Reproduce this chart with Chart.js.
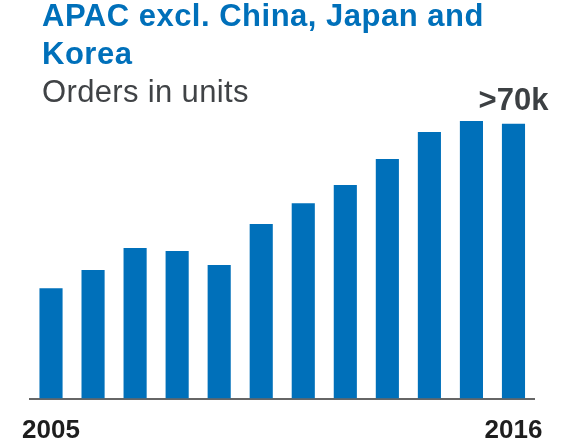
<!DOCTYPE html>
<html>
<head>
<meta charset="utf-8">
<script src="https://cdn.jsdelivr.net/npm/chart.js@4"></script>
<style>
  html, body { margin: 0; padding: 0; background: #fff; }
  #wrap { position: relative; width: 577px; height: 445px; overflow: hidden; }
  #chart { position: absolute; left: 0; top: 0; }
  .title {
    position: absolute; left: 42px; top: -3px; margin: 0;
    font-family: "Liberation Sans", Arial, sans-serif;
    font-weight: bold; font-size: 31px; line-height: 38px;
    letter-spacing: 0.5px;
    color: #0070ba; white-space: nowrap;
  }
  .subtitle {
    position: absolute; left: 42px; top: 73px; margin: 0;
    font-family: "Liberation Sans", Arial, sans-serif;
    font-weight: normal; font-size: 31px; line-height: 38px;
    letter-spacing: 0.35px;
    color: #404346; white-space: nowrap;
  }
</style>
</head>
<body>
<div id="wrap">
  <canvas id="chart" width="577" height="445"></canvas>
  <div class="title">APAC excl. China, Japan and<br>Korea</div>
  <div class="subtitle">Orders in units</div>
</div>
<script>
// Yearly order intake, units
const years = ['2005', '2006', '2007', '2008', '2009', '2010',
               '2011', '2012', '2013', '2014', '2015', '2016'];
const orders = [28500, 33200, 38900, 38100, 34500, 45100,
                50500, 55200, 61900, 68900, 71700, 71000];
// Only the first and last year are written under the axis
const shownYears = ['2005', '2016'];
// The last year carries a rounded "more than" callout
const calloutIndex = orders.length - 1;

const BLUE = '#0070ba';

// Writes ">NNk" above the callout bar, derived from its value
const calloutPlugin = {
  id: 'callout',
  afterDatasetsDraw(chart) {
    const bar = chart.getDatasetMeta(0).data[calloutIndex];
    const v = chart.data.datasets[0].data[calloutIndex];
    const text = '>' + Math.floor(v / 10000) * 10 + 'k';
    const ctx = chart.ctx;
    ctx.save();
    ctx.font = 'bold 31px "Liberation Sans", Arial, sans-serif';
    ctx.fillStyle = '#3c4043';
    ctx.textAlign = 'center';
    ctx.textBaseline = 'alphabetic';
    ctx.fillText(text, bar.x, bar.y - 14);
    ctx.restore();
  }
};

new Chart(document.getElementById('chart'), {
  type: 'bar',
  data: {
    labels: years,
    datasets: [{
      data: orders,
      backgroundColor: BLUE,
      borderWidth: 0,
      categoryPercentage: 1,
      barPercentage: 0.55
    }]
  },
  options: {
    responsive: false,
    animation: false,
    layout: { padding: { left: 30, right: 42.5, top: 89, bottom: 0 } },
    plugins: {
      legend: { display: false },
      tooltip: { enabled: false },
      title: { display: false }
    },
    scales: {
      x: {
        grid: { display: false, drawTicks: false },
        border: { display: true, color: '#666666', width: 2 },
        ticks: {
          autoSkip: false,
          maxRotation: 0,
          padding: 17,
          color: '#1e1e1e',
          font: { family: '"Liberation Sans", Arial, sans-serif', size: 26, weight: 'bold' },
          callback: function (value) {
            const lab = this.getLabelForValue(value);
            return shownYears.includes(lab) ? lab : '';
          }
        },
        afterFit(scale) { scale.height = 46.5; }
      },
      y: {
        display: false,
        min: 0,
        max: 80000
      }
    }
  },
  plugins: [calloutPlugin]
});
</script>
</body>
</html>
